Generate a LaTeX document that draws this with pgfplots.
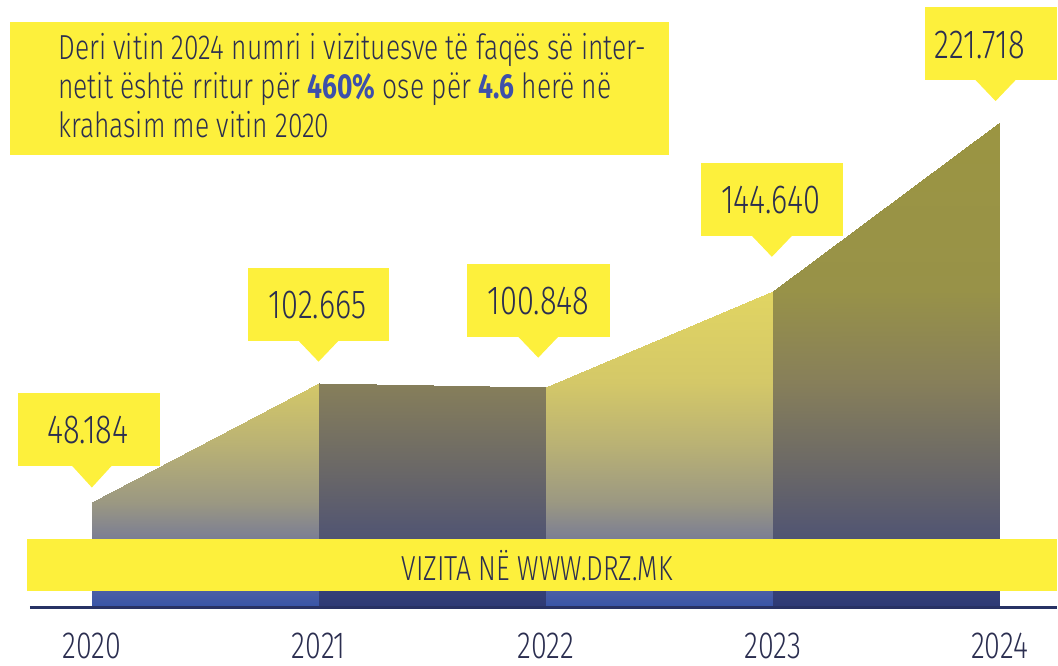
\documentclass[border=0pt]{standalone}
\usepackage{fontspec}
\setmainfont{Fira Sans}[UprightFont={* Light}, BoldFont={* Bold}, FakeStretch=0.76]
\usepackage{pgfplots}
\pgfplotsset{compat=1.18}
\definecolor{ylw}{RGB}{253,240,60}
\definecolor{navy}{RGB}{43,46,80}
\definecolor{boldblue}{RGB}{61,80,170}
\definecolor{basecol}{RGB}{40,50,100}
\pgfplotsset{
  colormap={segA}{rgb255(0pt)=(55,84,168) rgb255(15pt)=(95,105,160) rgb255(31pt)=(122,125,148) rgb255(48pt)=(155,152,130) rgb255(75pt)=(186,178,116) rgb255(103pt)=(212,200,104) rgb255(145pt)=(225,213,98) rgb255(222pt)=(230,218,95)},
  colormap={segB}{rgb255(0pt)=(45,58,118) rgb255(15pt)=(62,70,118) rgb255(31pt)=(80,84,115) rgb255(60pt)=(104,102,104) rgb255(103pt)=(135,127,90) rgb255(145pt)=(152,146,72) rgb255(222pt)=(155,149,66)}
}
\begin{document}
\begin{tikzpicture}
\begin{axis}[
  at={(0,0)}, anchor=south west,
  scale only axis, width=529pt, height=330pt,
  xmin=2019.595, xmax=2024.251, ymin=-23.74, ymax=277.63,
  axis line style={draw=none},
  ytick=\empty,
  xtick={2020,2021,2022,2023,2024},
  xticklabels={2020,2021,2022,2023,2024},
  major tick length=0pt,
  xticklabel style={anchor=center, yshift=6.5pt, font=\fontsize{18.9}{20}\selectfont, text=navy},
  clip=false,
  point meta min=0, point meta max=222,
]
% segments A (2020-2021, 2022-2023)
\addplot[patch, patch type=rectangle, shader=interp, colormap name=segA, point meta=explicit]
  coordinates {(2020,0) [0] (2021,0) [0] (2021,102.665) [102.665] (2020,48.184) [48.184]};
\addplot[patch, patch type=rectangle, shader=interp, colormap name=segA, point meta=explicit]
  coordinates {(2022,0) [0] (2023,0) [0] (2023,144.640) [144.640] (2022,100.848) [100.848]};
% segments B (2021-2022, 2023-2024)
\addplot[patch, patch type=rectangle, shader=interp, colormap name=segB, point meta=explicit]
  coordinates {(2021,0) [0] (2022,0) [0] (2022,100.848) [100.848] (2021,102.665) [102.665]};
\addplot[patch, patch type=rectangle, shader=interp, colormap name=segB, point meta=explicit]
  coordinates {(2023,0) [0] (2024,0) [0] (2024,221.718) [221.718] (2023,144.640) [144.640]};
\end{axis}
\begin{scope}[x=0.5pt, y=-0.5pt, shift={(0,330pt)}]
  % header box
  \fill[ylw] (10,22) rectangle (670,155);
  \begin{scope}[every node/.style={anchor=base west, inner sep=0pt, text=navy, font=\fontsize{17.4}{19.5}\selectfont}]
    \node at (58,59) {Deri vitin 2024 numri i vizituesve të faqës së inter-};
    \node at (58,98) {netit është rritur për \textcolor{boldblue}{\textbf{460\%}} ose për \textcolor{boldblue}{\textbf{4.6}} herë në};
    \node at (58,137) {krahasim me vitin 2020};
  \end{scope}
  % callouts
  \begin{scope}[every node/.style={anchor=center, inner sep=0pt, text=navy, font=\fontsize{20.3}{22}\selectfont}]
    \fill[ylw] (18,393) rectangle (160,466); \fill[ylw] (71,465) -- (113,465) -- (92,488) -- cycle;
    \node at (88,430) {48.184};
    \fill[ylw] (248,268) rectangle (390,341); \fill[ylw] (298,340) -- (340,340) -- (319,362) -- cycle;
    \node at (318,305) {102.665};
    \fill[ylw] (468,264) rectangle (611,337); \fill[ylw] (518,336) -- (560,336) -- (539,358) -- cycle;
    \node at (539,301) {100.848};
    \fill[ylw] (702,163) rectangle (844,236); \fill[ylw] (752,235) -- (794,235) -- (773,257) -- cycle;
    \node at (772,200) {144.640};
    \fill[ylw] (926,7) rectangle (1058,80); \fill[ylw] (976,79) -- (1018,79) -- (997,101) -- cycle;
    \node at (981,45) {221.718};
  \end{scope}
  % banner
  \fill[ylw] (27,540) rectangle (1058,592);
  \node[anchor=center, inner sep=0pt, text=navy, font=\fontsize{17.4}{19}\selectfont] at (538,566) {VIZITA NË WWW.DRZ.MK};
  % baseline
  \draw[basecol, line width=1.5pt] (30,608.5) -- (1058,608.5);
\end{scope}
\end{tikzpicture}
\end{document}
